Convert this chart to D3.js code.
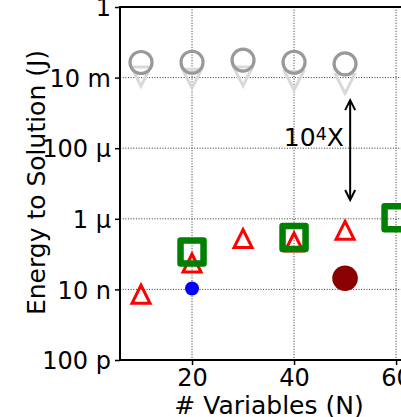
<!DOCTYPE html>
<html>
<head>
<meta charset="utf-8">
<script src="https://cdn.jsdelivr.net/npm/d3@7"></script>
<style>
  html, body { margin: 0; padding: 0; background: #fff; }
  svg { display: block; }
  text { font-family: "DejaVu Sans", sans-serif; }
</style>
</head>
<body>
<svg id="chart" width="401" height="417"></svg>
<script>
// ---- data ----
const N = [10, 20, 30, 40, 50];
const grayCircles = [0.0268, 0.0272, 0.0314, 0.0272, 0.0246];
const grayTriangles = [0.0107, 0.0093, 0.0108, 0.0082, 0.0066];
const redTriangles = [7.3e-9, 5.6e-8, 2.75e-7, 2.2e-7, 4.7e-7];
const greenN = [20, 40, 60];
const greenSquares = [1.15e-7, 2.95e-7, 1.07e-6];
const blueN = [20];
const blueDots = [1.06e-8];
const darkRedN = [50];
const darkRedDots = [2.06e-8];
const xTickValues = [20, 40, 60];
const xTickLabels = ["20", "40", "60"];
const yTickValues = [1, 1e-2, 1e-4, 1e-6, 1e-8, 1e-10];
const yTickLabels = ["1", "10 m", "100 μ", "1 μ", "10 n", "100 p"];
const arrowX = 51;
const arrowFrom = 2.3e-3;
const arrowTo = 3.4e-6;
const annotX = 38;
const annotY = 1.15e-4;

// ---- layout ----
const svg = d3.select("#chart");
const mLeft = 120, mRight = 418, mTop = 7, mBottom = 360;
const x = d3.scaleLinear().domain([5.88, 64.3]).range([mLeft, mRight]);
const y = d3.scaleLog().domain([1e-10, 1]).range([mBottom, mTop]);
const FS = 25, TFS = 24;

// grid
const grid = svg.append("g");
grid.selectAll("line.gx").data(xTickValues).join("line")
  .attr("x1", d => x(d)).attr("x2", d => x(d))
  .attr("y1", mTop).attr("y2", mBottom)
  .attr("stroke", "#333").attr("stroke-width", 1).attr("stroke-dasharray", "1,1.65");
grid.selectAll("line.gy").data(yTickValues).join("line")
  .attr("x1", mLeft).attr("x2", mRight)
  .attr("y1", d => y(d)).attr("y2", d => y(d))
  .attr("stroke", "#333").attr("stroke-width", 1).attr("stroke-dasharray", "1,1.65");

// axes
const yAxis = d3.axisLeft(y).tickValues(yTickValues)
  .tickFormat((d, i) => yTickLabels[i]).tickSize(5).tickPadding(4);
const gy = svg.append("g").attr("transform", `translate(${mLeft},0)`).call(yAxis);
const xAxis = d3.axisBottom(x).tickValues(xTickValues)
  .tickFormat((d, i) => xTickLabels[i]).tickSize(5).tickPadding(4);
const gx = svg.append("g").attr("transform", `translate(0,${mBottom})`).call(xAxis);
[gx, gy].forEach(g => {
  g.select(".domain").remove();
  g.selectAll(".tick line").attr("stroke", "#000").attr("stroke-width", 1.5);
  g.selectAll(".tick text").attr("fill", "#000")
    .style("font-family", "DejaVu Sans").style("font-size", TFS + "px");
});
gx.selectAll(".tick text").attr("dy", null).attr("y", 26);
gy.selectAll(".tick text").attr("dy", "0.36em");

// spines
svg.append("line").attr("x1", mLeft).attr("x2", mLeft).attr("y1", mTop - 1).attr("y2", mBottom + 1)
  .attr("stroke", "#000").attr("stroke-width", 2);
svg.append("line").attr("x1", mLeft - 1).attr("x2", mRight).attr("y1", mBottom).attr("y2", mBottom)
  .attr("stroke", "#000").attr("stroke-width", 2);
svg.append("line").attr("x1", mLeft - 1).attr("x2", mRight).attr("y1", mTop).attr("y2", mTop)
  .attr("stroke", "#000").attr("stroke-width", 2);

// marker paths
function triUp(cx, cy, h) {
  return `M${cx},${cy - h}L${cx - h},${cy + h}L${cx + h},${cy + h}Z`;
}
function triDown(cx, cy, h) {
  return `M${cx},${cy + h}L${cx - h},${cy - h}L${cx + h},${cy - h}Z`;
}
function square(cx, cy, s) {
  return `M${cx - s},${cy - s}H${cx + s}V${cy + s}H${cx - s}Z`;
}

const marks = svg.append("g");
// gray triangles (down)
marks.selectAll("path.gt").data(N).join("path")
  .attr("d", (d, i) => triDown(x(d), y(grayTriangles[i]), 9.5))
  .attr("fill", "none").attr("stroke", "#d9d9d9").attr("stroke-width", 3);
// gray circles
marks.selectAll("circle.gc").data(N).join("circle")
  .attr("cx", d => x(d)).attr("cy", (d, i) => y(grayCircles[i])).attr("r", 11)
  .attr("fill", "none").attr("stroke", "#999999").attr("stroke-width", 3.2);
// red triangles
marks.selectAll("path.rt").data(N).join("path")
  .attr("d", (d, i) => triUp(x(d), y(redTriangles[i]), 9))
  .attr("fill", "none").attr("stroke", "#ff0000").attr("stroke-width", 3);
// green squares
marks.selectAll("path.gs").data(greenN).join("path")
  .attr("d", (d, i) => square(x(d), y(greenSquares[i]), 11.5))
  .attr("fill", "none").attr("stroke", "#008000").attr("stroke-width", 6.5)
  .attr("stroke-linejoin", "round");
// blue dots
marks.selectAll("circle.bd").data(blueN).join("circle")
  .attr("cx", d => x(d)).attr("cy", (d, i) => y(blueDots[i])).attr("r", 7)
  .attr("fill", "#0000ff");
// dark red dots
marks.selectAll("circle.dr").data(darkRedN).join("circle")
  .attr("cx", d => x(d)).attr("cy", (d, i) => y(darkRedDots[i])).attr("r", 12.8)
  .attr("fill", "#8b0000");

// double arrow
const ax = x(arrowX), ay1 = y(arrowFrom), ay2 = y(arrowTo);
const hl = 10, hw = 5;
const arr = svg.append("g").attr("stroke", "#000").attr("stroke-width", 2)
  .attr("fill", "none").attr("stroke-linecap", "butt");
arr.append("line").attr("x1", ax).attr("x2", ax).attr("y1", ay1 + 1).attr("y2", ay2 - 1);
arr.append("path").attr("d", `M${ax - hw},${ay1 + hl}L${ax},${ay1}L${ax + hw},${ay1 + hl}`);
arr.append("path").attr("d", `M${ax - hw},${ay2 - hl}L${ax},${ay2}L${ax + hw},${ay2 - hl}`);

// annotation
const t = svg.append("text").attr("x", x(annotX)).attr("y", y(annotY))
  .attr("fill", "#000").style("font-size", FS + "px");
t.append("tspan").text("10");
t.append("tspan").attr("dy", -6).style("font-size", (FS * 0.7) + "px").text("4");
t.append("tspan").attr("dy", 6).text("X");

// axis labels
svg.append("text").attr("x", (mLeft + mRight) / 2).attr("y", 414)
  .attr("text-anchor", "middle").attr("fill", "#000").style("font-size", FS + "px")
  .text("# Variables (N)");
svg.append("text").attr("transform", `translate(45,${(mTop + mBottom) / 2 - 1}) rotate(-90)`)
  .attr("text-anchor", "middle").attr("fill", "#000").style("font-size", FS + "px")
  .text("Energy to Solution (J)");
</script>
</body>
</html>
